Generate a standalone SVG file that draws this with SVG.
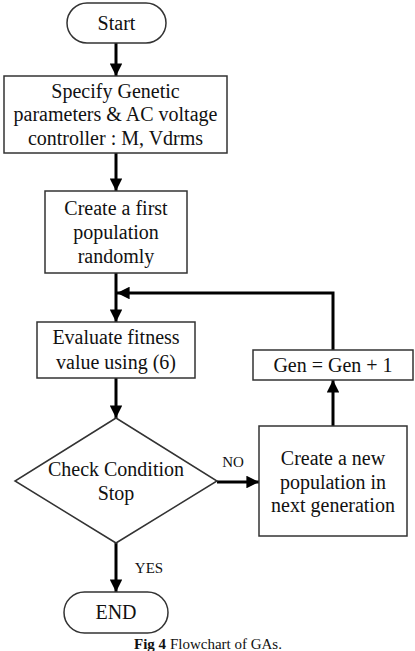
<svg xmlns="http://www.w3.org/2000/svg" width="415" height="651" viewBox="0 0 415 651" font-family="Liberation Serif, Times New Roman, serif">
<style>
.box{fill:#fff;stroke:#333;stroke-width:1.5}
.t{font-size:20px;fill:#111;text-anchor:middle}
.s{font-size:15px;fill:#111;text-anchor:middle}
.c{fill:none;stroke:#000;stroke-width:3}
</style>
<defs>
<marker id="ah" viewBox="0 0 10 10" refX="10" refY="5" markerWidth="4.5" markerHeight="4.2" markerUnits="strokeWidth" orient="auto">
<path d="M0,0 L10,5 L0,10 Z" fill="#000"/>
</marker>
</defs>
<rect width="415" height="651" fill="#fff"/>
<g id="connectors">
<line class="c" x1="116" y1="43" x2="116" y2="76" marker-end="url(#ah)"/>
<line class="c" x1="116" y1="153" x2="116" y2="191" marker-end="url(#ah)"/>
<line class="c" x1="116" y1="273" x2="116" y2="322" marker-end="url(#ah)"/>
<polyline class="c" points="333,350 333,293 117,293" marker-end="url(#ah)"/>
<line class="c" x1="116" y1="378" x2="116" y2="418" marker-end="url(#ah)"/>
<line class="c" x1="217" y1="482" x2="259" y2="482" marker-end="url(#ah)"/>
<line class="c" x1="333" y1="426" x2="333" y2="380" marker-end="url(#ah)"/>
<line class="c" x1="116" y1="543" x2="116" y2="592" marker-end="url(#ah)"/>
<text class="s" x="233" y="467" font-family="Liberation Serif, serif">NO</text>
<text class="s" x="149" y="573" font-family="Liberation Serif, serif">YES</text>
</g>
<g id="start" font-family="Liberation Serif, serif">
<rect class="box" x="67" y="3" width="99" height="40" rx="20" ry="20"/>
<text class="t" x="116.5" y="30">Start</text>
</g>
<g id="specify" font-family="Liberation Serif, serif">
<rect class="box" x="4" y="76" width="223" height="77"/>
<text class="t" x="115.5" y="98">Specify Genetic</text>
<text class="t" x="115.5" y="121">parameters &amp; AC voltage</text>
<text class="t" x="115.5" y="145">controller : M, Vdrms</text>
</g>
<g id="create-first" font-family="Liberation Serif, serif">
<rect class="box" x="45" y="191" width="142" height="82"/>
<text class="t" x="116" y="215">Create a first</text>
<text class="t" x="116" y="239">population</text>
<text class="t" x="116" y="263">randomly</text>
</g>
<g id="evaluate" font-family="Liberation Serif, serif">
<rect class="box" x="37" y="322" width="158" height="56"/>
<text class="t" x="116" y="344">Evaluate fitness</text>
<text class="t" x="116" y="369">value using (6)</text>
</g>
<g id="gen" font-family="Liberation Serif, serif">
<rect class="box" x="253" y="350" width="160" height="30"/>
<text class="t" x="333" y="372">Gen = Gen + 1</text>
</g>
<g id="check" font-family="Liberation Serif, serif">
<polygon class="box" points="116,418 217,481 116,543 15,481"/>
<text class="t" x="116" y="476">Check Condition</text>
<text class="t" x="116" y="500">Stop</text>
</g>
<g id="create-new" font-family="Liberation Serif, serif">
<rect class="box" x="259" y="426" width="148" height="110"/>
<text class="t" x="333" y="465">Create a new</text>
<text class="t" x="333" y="489">population in</text>
<text class="t" x="333" y="512">next generation</text>
</g>
<g id="end" font-family="Liberation Serif, serif">
<rect class="box" x="64" y="592" width="104" height="41" rx="20.5" ry="20.5"/>
<text class="t" x="116" y="619">END</text>
</g>
<text x="208" y="649" font-family="Liberation Serif, serif" font-size="15" fill="#111" text-anchor="middle"><tspan font-weight="bold">Fig 4</tspan> Flowchart of GAs.</text>
</svg>
